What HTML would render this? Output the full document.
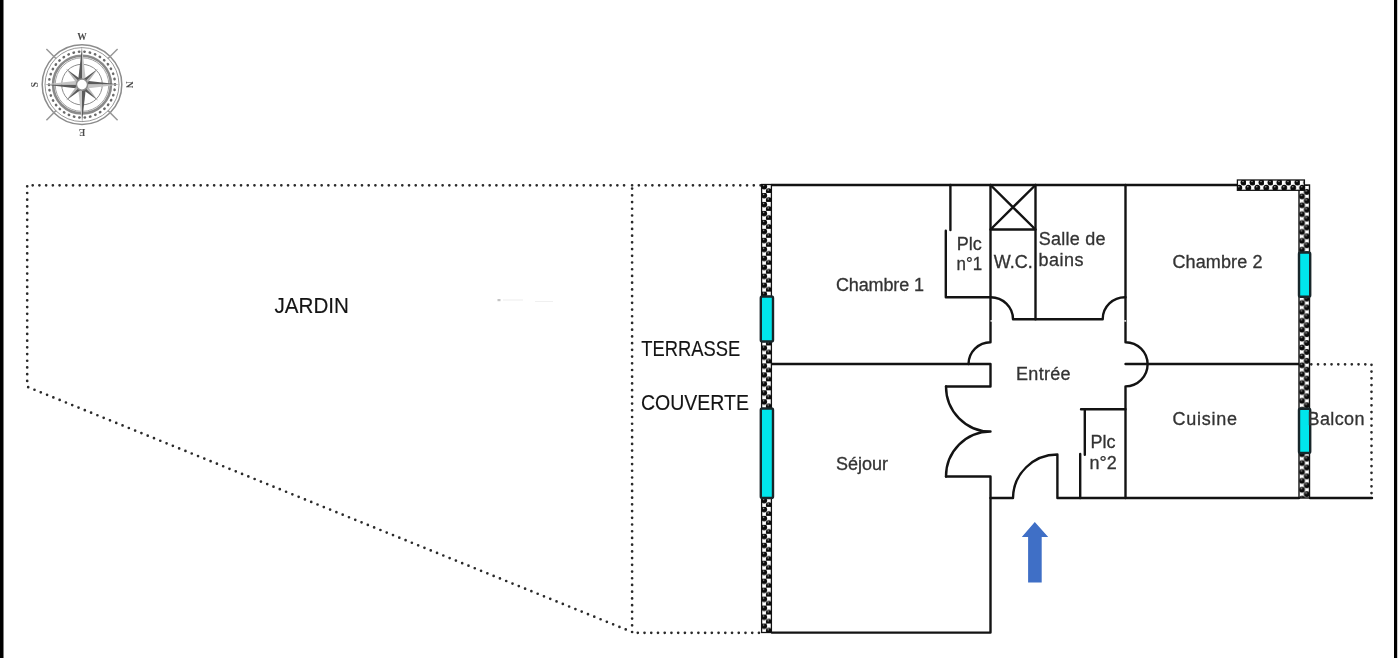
<!DOCTYPE html>
<html><head><meta charset="utf-8">
<style>
html,body{margin:0;padding:0;background:#fff;width:1400px;height:658px;overflow:hidden}
svg{position:absolute;left:0;top:0;display:block;will-change:transform}
text{font-family:"Liberation Sans",sans-serif}
text.cp{font-family:"Liberation Serif",serif;font-size:9.5px;font-weight:bold}
</style></head>
<body>
<svg width="1400" height="658" viewBox="0 0 1400 658">
<defs>
<pattern id="chkV" patternUnits="userSpaceOnUse" x="761" y="184" width="11" height="8.97">
  <rect width="11" height="8.97" fill="#fff"/>
  <circle cx="3.2" cy="2.6" r="2.95" fill="#0a0a0a"/>
  <circle cx="7.8" cy="7.08" r="2.95" fill="#0a0a0a"/>
  <circle cx="3.2" cy="-1.89" r="2.95" fill="#0a0a0a"/>
  <circle cx="2.6" cy="1.5" r="0.8" fill="#999"/>
  <circle cx="7.2" cy="5.98" r="0.8" fill="#999"/>
</pattern>
<pattern id="chkV2" patternUnits="userSpaceOnUse" x="1298.8" y="185" width="11.4" height="8.89">
  <rect width="11.4" height="8.89" fill="#fff"/>
  <circle cx="3.2" cy="2.51" r="2.95" fill="#0a0a0a"/>
  <circle cx="8.0" cy="6.955" r="2.95" fill="#0a0a0a"/>
  <circle cx="8.0" cy="-1.935" r="2.95" fill="#0a0a0a"/>
  <circle cx="3.2" cy="11.4" r="2.95" fill="#0a0a0a"/>
  <circle cx="2.6" cy="1.4" r="0.8" fill="#999"/>
  <circle cx="7.4" cy="5.85" r="0.8" fill="#999"/>
</pattern>
<pattern id="chkH" patternUnits="userSpaceOnUse" x="1237" y="180" width="8.98" height="11">
  <rect width="8.98" height="11" fill="#fff"/>
  <circle cx="6.5" cy="2.6" r="2.95" fill="#0a0a0a"/>
  <circle cx="2.3" cy="7.8" r="2.95" fill="#0a0a0a"/>
  <circle cx="11.28" cy="7.8" r="2.95" fill="#0a0a0a"/>
  <circle cx="6.0" cy="1.5" r="0.8" fill="#999"/>
  <circle cx="1.8" cy="6.7" r="0.8" fill="#999"/>
</pattern>
</defs>

<!-- page borders -->
<rect x="0" y="0" width="3.5" height="658" fill="#000"/>
<rect x="1394" y="0" width="3.2" height="658" fill="#000"/>

<!-- dotted outlines -->
<g fill="none" stroke="#2a2a2a" stroke-width="2.7" stroke-linecap="round">
  <path d="M32.7 185.3 H628" stroke-dasharray="0 6.72"/>
  <path d="M632.1 185.3 H761" stroke-dasharray="0 6.76"/>
  <path d="M27.2 186.3 V382" stroke-dasharray="0 6.71"/>
  <path d="M28.2 387.2 L632 632" stroke-dasharray="0 6.787"/>
  <path d="M632.1 632 V187" stroke-dasharray="0 6.718"/>
  <path d="M637.8 632.8 H760" stroke-dasharray="0 6.73"/>
  <path d="M1311.3 364.3 H1371.5 V497" stroke-dasharray="0 6.75"/>
</g>
<!-- solid walls -->
<g fill="none" stroke="#131313" stroke-width="2.4" stroke-linecap="round" stroke-linejoin="round">
  <path d="M772 185 H1237"/>
  <path d="M772 632.6 H990.5 V476.5 H946"/>
  <path d="M946 386.5 H990.5 V364 H772"/>
  <path d="M946 386.5 A44.5 45 0 0 0 990.5 431.5 A44.5 45 0 0 0 946 476.5"/>
  <path d="M990.5 185 V342.2 A22 22 0 0 0 968.5 364"/>
  <path d="M990.5 498 H1013 A44.5 44 0 0 1 1057.4 454.5 V498 H1299"/>
  <path d="M1310 498 H1372"/>
  <path d="M950.4 185 V230"/>
  <path d="M945.8 230.8 V297.2 H990.5 A22.3 22 0 0 1 1013 319.2 H1102.7 A22.3 22 0 0 1 1125.5 297.2"/>
  <path d="M990.5 229.5 H1035.5 M990.5 185 L1035.5 229.5 M1035.5 185 L990.5 229.5"/>
  <path d="M1035.5 185 V319.2"/>
  <path d="M1125.5 185 V342.2 A22 22 0 0 1 1125.5 386.4 V498"/>
  <path d="M1125.5 364 H1299"/>
  <path d="M1081 409.2 H1125.5 M1084.8 409.2 V454.7 M1080.2 454 V498"/>
</g>

<rect x="990.5" y="320" width="2" height="1.8" fill="#fff" opacity="0.8"/><rect x="1124.3" y="320" width="1.8" height="1.8" fill="#fff" opacity="0.8"/>
<!-- checker walls -->
<rect x="761.6" y="184.5" width="9.8" height="448" fill="url(#chkV)" stroke="#111" stroke-width="1.3"/>
<rect x="1299" y="185" width="10.5" height="313" fill="url(#chkV2)" stroke="#111" stroke-width="1.4"/>
<rect x="1237.4" y="180" width="67" height="10.3" fill="url(#chkH)" stroke="#111" stroke-width="1.3"/>

<!-- windows -->
<g fill="#00e6ec" stroke="#18262a" stroke-width="2.4">
  <rect x="760.8" y="296.5" width="12.2" height="45" rx="1.5"/>
  <rect x="760.8" y="408.5" width="12.2" height="89.5" rx="1.5"/>
  <rect x="1299" y="252.5" width="11.2" height="44.2" rx="1.5"/>
  <rect x="1299" y="408.8" width="11.2" height="44.2" rx="1.5"/>
</g>

<rect x="497.5" y="299" width="3" height="2.2" fill="#c4c4c4"/>
<rect x="503" y="299.5" width="20" height="1" fill="#eeeeee"/><rect x="535" y="301" width="18" height="1" fill="#f0f0f0"/>
<!-- arrow -->
<path d="M1034.8 522 L1048.2 537 H1041.7 V582.6 H1028.1 V537 H1021.8 Z" fill="#3f6fc6"/>

<!-- big labels -->
<g fill="#141414" stroke="#141414" stroke-width="0.15" font-size="22.6">
  <text x="274.5" y="312.9" textLength="74.5" lengthAdjust="spacingAndGlyphs">JARDIN</text>
  <text x="641.3" y="356.2" textLength="99" lengthAdjust="spacingAndGlyphs">TERRASSE</text>
  <text x="641" y="410" textLength="108" lengthAdjust="spacingAndGlyphs">COUVERTE</text>
</g>

<!-- room labels -->
<g fill="#333" stroke="#333" stroke-width="0.3" font-size="18">
  <text x="836" y="290.8" textLength="88" lengthAdjust="spacing">Chambre 1</text>
  <text x="1172.4" y="268" textLength="90" lengthAdjust="spacing">Chambre 2</text>
  <text x="956.8" y="249.6">Plc</text>
  <text x="956.5" y="270.1" textLength="25.6" lengthAdjust="spacingAndGlyphs">n°1</text>
  <text x="993.8" y="268.4">W.C.</text>
  <text x="1038.8" y="244.8" textLength="66.6" lengthAdjust="spacing">Salle de</text>
  <text x="1038.5" y="266" textLength="45" lengthAdjust="spacing">bains</text>
  <text x="1016" y="379.8" textLength="54.6" lengthAdjust="spacing">Entrée</text>
  <text x="836" y="469.6">Séjour</text>
  <text x="1172.6" y="425.1" textLength="64.3" lengthAdjust="spacing">Cuisine</text>
  <text x="1090.6" y="448">Plc</text>
  <text x="1089.6" y="469.3">n°2</text>
  <text x="1307.5" y="424.9" textLength="57" lengthAdjust="spacing">Balcon</text>
</g>

<!-- compass -->
<g id="compass" transform="translate(82 84.6) rotate(90)" stroke="#8c8c8c" fill="none">
  <circle r="39.8" stroke-width="1.5"/>
  <circle r="37" stroke-width="0.9"/>
  <circle r="28.9" stroke-width="2.6" stroke="#8a8a8a"/>
  <circle r="26.8" stroke-width="0.8"/>
  <circle r="20.3" stroke-width="1"/>
  <circle r="33" stroke-width="2.5" stroke="#6a6a6a" stroke-linecap="round" stroke-dasharray="0.4 5.05" transform="rotate(4)"/>
  <g stroke-width="1.5" stroke="#999">
    <path d="M25.8 25.8 L35.6 35.6 M-25.8 25.8 L-35.6 35.6 M25.8 -25.8 L35.6 -35.6 M-25.8 -25.8 L-35.6 -35.6"/>
  </g>
  <g stroke="none">
    <path d="M0 -38 L-3.8 -4.5 L0 0 Z" fill="#5a5a5a"/>
    <path d="M0 -38 L3.8 -4.5 L0 0 Z" fill="#c4c4c4"/>
    <path d="M0 38 L3.8 4.5 L0 0 Z" fill="#5a5a5a"/>
    <path d="M0 38 L-3.8 4.5 L0 0 Z" fill="#c4c4c4"/>
    <path d="M38 0 L4.5 3.8 L0 0 Z" fill="#c4c4c4"/>
    <path d="M38 0 L4.5 -3.8 L0 0 Z" fill="#5a5a5a"/>
    <path d="M-38 0 L-4.5 -3.8 L0 0 Z" fill="#c4c4c4"/>
    <path d="M-38 0 L-4.5 3.8 L0 0 Z" fill="#5a5a5a"/>
    <g transform="rotate(45)">
      <path d="M0 -22.5 L-3 -3.5 L0 0 Z" fill="#b4b4b4"/>
      <path d="M0 -22.5 L3 -3.5 L0 0 Z" fill="#5a5a5a"/>
      <path d="M0 22.5 L3 3.5 L0 0 Z" fill="#b4b4b4"/>
      <path d="M0 22.5 L-3 3.5 L0 0 Z" fill="#5a5a5a"/>
      <path d="M22.5 0 L3.5 3 L0 0 Z" fill="#b4b4b4"/>
      <path d="M22.5 0 L3.5 -3 L0 0 Z" fill="#5a5a5a"/>
      <path d="M-22.5 0 L-3.5 -3 L0 0 Z" fill="#b4b4b4"/>
      <path d="M-22.5 0 L-3.5 3 L0 0 Z" fill="#5a5a5a"/>
    </g>
  </g>
  <circle r="5.6" fill="#fff" stroke-width="1.5"/>
  <g fill="#4a4a4a" stroke="none" text-anchor="middle">
    <text class="cp" x="0" y="-43.5">N</text>
    <text class="cp" x="48" y="3.5" transform="rotate(90 48 0)">E</text>
    <text class="cp" x="0" y="51" transform="rotate(180 0 47.5)">S</text>
    <text class="cp" x="-48" y="3.5" transform="rotate(-90 -48 0)">W</text>
  </g>
</g>
</svg>
</body></html>
